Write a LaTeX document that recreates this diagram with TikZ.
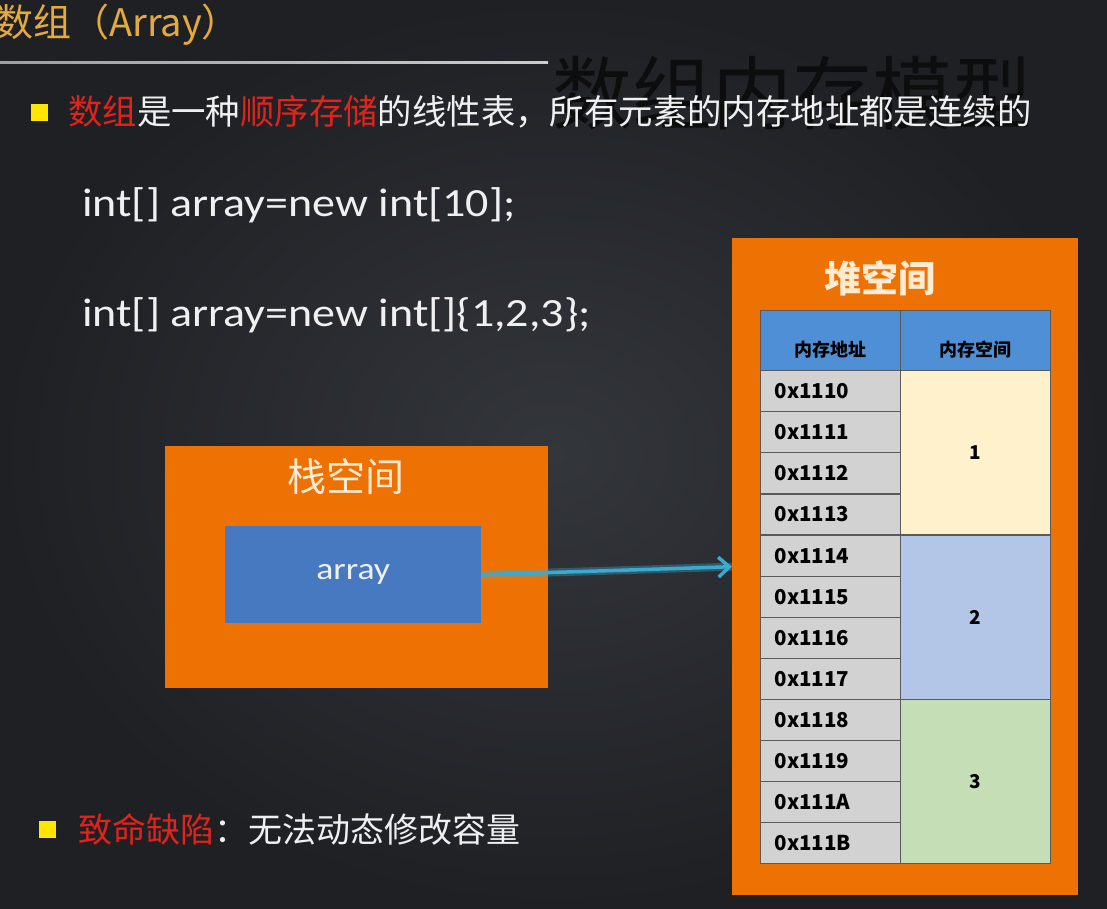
\documentclass[tikz,border=0pt]{standalone}
\usepackage{fontspec}
\setmainfont{Noto Sans CJK SC}
\newfontfamily\codefont{Carlito}[FakeStretch=1.15]
\usetikzlibrary{arrows.meta}
\definecolor{bgin}{HTML}{33363B}
\definecolor{bgout}{HTML}{1E2024}
\definecolor{titlec}{HTML}{E6AA3C}
\definecolor{redc}{HTML}{E0231B}
\definecolor{bulc}{HTML}{FFE600}
\definecolor{orng}{HTML}{EE7203}
\definecolor{creamt}{HTML}{FDEBD3}
\definecolor{arrblue}{HTML}{4679C0}
\definecolor{hdrblue}{HTML}{4E8FD6}
\definecolor{cellgray}{HTML}{D2D2D2}
\definecolor{cellline}{HTML}{5A5A5A}
\definecolor{c1}{HTML}{FFF1CC}
\definecolor{c2}{HTML}{B3C6E8}
\definecolor{c3}{HTML}{C6DEB5}
\definecolor{cyanc}{HTML}{3AAAD0}
\definecolor{textw}{HTML}{F0F0F0}
\tikzset{
  txt/.style={inner sep=0pt, anchor=west, text=textw},
  bullet/.style={fill=bulc, minimum size=17pt, inner sep=0pt},
  orangebox/.style={fill=orng, draw=none, anchor=north west, inner sep=0pt},
  addrcell/.style={fill=cellgray, draw=cellline, line width=1.2pt, anchor=north west,
     text width=112pt, inner xsep=14pt, inner ysep=0pt, minimum height=41.1pt, align=left,
     font=\fontsize{20.5}{22}\selectfont\bfseries, text=black},
  valcell/.style={draw=cellline, line width=1.2pt, anchor=north west, minimum width=150pt,
     minimum height=164.4pt, inner sep=0pt, font=\fontsize{19}{22}\selectfont\bfseries, text=black},
  hdrcell/.style={fill=hdrblue, draw=cellline, line width=1.2pt, anchor=north west,
     minimum height=60pt, inner sep=0pt},
  hdrtext/.style={label={[yshift=-9pt, inner sep=0pt, font=\fontsize{18}{22}\selectfont\bfseries, text=black]center:#1}},
}
\begin{document}
\begin{tikzpicture}[x=1pt,y=-1pt]
\useasboundingbox (0,0) rectangle (1107,908);
\shade[inner color=bgin, outer color=bgout] (0,0) rectangle (1107,908);
% title
\node[txt, text=titlec, font=\fontsize{38}{44}\selectfont] (title) at (-5,25) {数组（Array）};
\shade[left color=gray!75, right color=gray!40] (0,61) rectangle (548,63.5);
% big overlay text
\node[inner sep=0pt, text=black!95, font=\fontsize{80}{90}\selectfont] (model) at (792,93) {数组内存模型};
% first bullet
\node[bullet] (b1) at (39,112) {};
\node[txt, font=\fontsize{34.4}{40}\selectfont] (line1) at (68,112) {\textcolor{redc}{数组}是一种\textcolor{redc}{顺序存储}的线性表，所有元素的内存地址都是连续的};
% code lines
\node[txt, font=\codefont\fontsize{40}{46}\selectfont] (code1) at (82,205) {int[] array=new int[10];};
\node[txt, font=\codefont\fontsize{40}{46}\selectfont] (code2) at (82,315) {int[] array=new int[]\{1,2,3\};};
% stack
\node[orangebox, minimum width=383pt, minimum height=242pt] (stack) at (165,446) {};
\node[inner sep=0pt, text=creamt, font=\fontsize{39}{44}\selectfont] (stackt) at (346,477) {栈空间};
\node[fill=arrblue, anchor=north west, minimum width=256pt, minimum height=97pt, inner sep=0pt,
      text=textw, font=\codefont\fontsize{31}{34}\selectfont] (arr) at (225,526) {array};
% heap
\node[orangebox, minimum width=346pt, minimum height=657pt] (heap) at (732,238) {};
\node[inner sep=0pt, text=creamt, font=\fontsize{37}{42}\selectfont\bfseries] (heapt) at (880,278) {堆空间};
\node[hdrcell, minimum width=140pt, hdrtext=内存地址] (h1) at (760,310) {};
\node[hdrcell, minimum width=150pt, hdrtext=内存空间] (h2) at (900,310) {};
\foreach \i/\t in {0/0x1110,1/0x1111,2/0x1112,3/0x1113,4/0x1114,5/0x1115,6/0x1116,7/0x1117,8/0x1118,9/0x1119,10/0x111A,11/0x111B}{
  \node[addrcell] (a\i) at (760,370+41.1*\i) {\t};
}
\node[valcell, fill=c1] (v1) at (900,370) {1};
\node[valcell, fill=c2] (v2) at (900,534.4) {2};
\node[valcell, fill=c3] (v3) at (900,698.8) {3};
% arrow
\draw[cyanc, opacity=0.35, line width=8pt] (arr.east) -- (heap.west);
\draw[cyanc, line width=3.5pt, -{Straight Barb[length=11pt,width=20pt,line width=3.5pt]}] (arr.east) -- (heap.west);
% second bullet
\node[bullet] (b2) at (47,829) {};
\node[txt, font=\fontsize{34}{40}\selectfont] (line2) at (78,829) {\textcolor{redc}{致命缺陷}：无法动态修改容量};
\end{tikzpicture}
\end{document}
